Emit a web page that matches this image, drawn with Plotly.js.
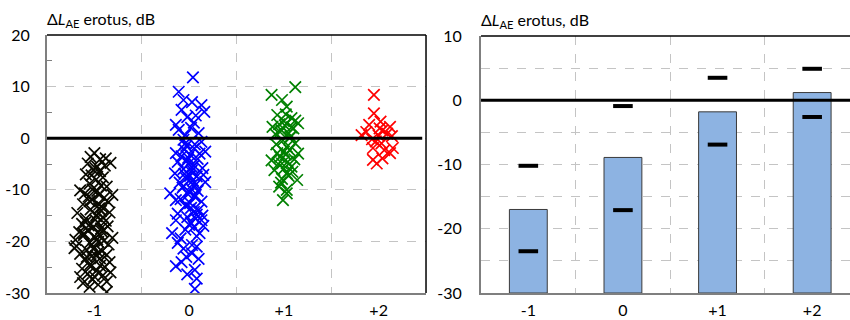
<!DOCTYPE html>
<html>
<head>
<meta charset="utf-8">
<script src="https://cdn.plot.ly/plotly-3.0.1.min.js"></script>
<style>html,body{margin:0;padding:0;background:#fff;overflow:hidden;}#chart{width:850px;height:320px;}</style>
</head>
<body>
<div id="chart"></div>
<script>
// Categories and tick labels
const categories = ['-1', '0', '+1', '+2'];
const yTicksLeft = [-30, -20, -10, 0, 10, 20];
const yTicksRight = [-30, -20, -10, 0, 10];

// Left panel: individual differences (x offset within category, value in dB)
const blackDx = [0.00,0.06,0.17,-0.07,-0.01,0.06,0.11,-0.04,0.03,-0.09,0.09,0.02,-0.03,0.12,
  -0.05,0.07,0.13,-0.15,0.19,-0.10,0.03,0.10,-0.02,0.15,-0.12,0.05,-0.06,0.08,
  -0.18,0.16,-0.04,0.02,0.09,-0.09,0.12,-0.13,0.04,-0.01,0.07,-0.07,0.14,-0.16,0.01,
  -0.20,0.19,-0.11,0.05,0.10,-0.05,-0.19,0.15,0.00,-0.08,0.08,-0.15,0.13,-0.03,0.04,-0.21,
  0.06,-0.10,0.16,-0.04,0.11,-0.13,0.02,0.17,-0.07,-0.15,0.09,-0.02,0.13,-0.12,-0.05,0.13,0.04,
  0.01,-0.02,0.05,-0.06,0.08,0.00,-0.03,0.04,-0.08,0.06,0.02,-0.05,0.10,-0.01,0.03,-0.09,0.07,-0.04,0.00,0.05,-0.11,0.02];
const blackY = [-2.9,-4.1,-4.8,-4.9,-6.2,-6.4,-5.3,-3.6,-5.5,-7.0,-7.6,-8.0,-7.2,-3.9,
  -8.8,-9.2,-9.4,-10.1,-11.0,-10.7,-10.2,-11.6,-11.9,-12.4,-12.8,-12.9,-11.3,-13.3,
  -14.5,-14.4,-13.8,-14.9,-15.3,-15.6,-16.0,-16.6,-16.4,-17.2,-17.5,-17.9,-17.1,-18.2,-15.8,
  -19.7,-19.3,-18.8,-18.6,-19.9,-20.3,-20.9,-20.6,-21.2,-21.7,-21.9,-22.4,-22.6,-22.9,-20.1,-21.3,
  -23.3,-23.6,-24.0,-24.4,-25.0,-25.3,-25.7,-26.0,-26.3,-26.9,-26.6,-27.4,-27.8,-28.1,-28.8,-29.8,-28.4,
  -5.8,-9.9,-13.6,-16.9,-18.1,-19.0,-20.6,-22.1,-23.0,-24.7,-15.1,-12.2,-17.8,-21.5,-19.6,-16.2,-14.1,-24.9,-26.8,-11.0,-18.5,-22.8];

const blueDx = [0.04,-0.11,-0.06,0.03,0.13,0.16,-0.08,-0.02,0.07,-0.14,-0.11,0.02,0.10,-0.04,0.05,
  0.13,0.17,-0.14,-0.03,0.06,-0.08,0.01,0.09,-0.12,-0.01,0.05,0.14,-0.06,0.02,-0.15,0.15,0.08,-0.03,0.17,0.04,-0.10,0.11,-0.05,
  -0.20,-0.14,-0.06,0.02,0.09,-0.01,0.06,-0.09,0.13,0.01,-0.04,0.10,0.05,-0.12,0.14,-0.02,0.07,0.13,-0.14,0.02,
  -0.18,-0.09,0.11,0.05,-0.04,0.15,0.08,-0.12,0.03,-0.06,0.08,0.03,-0.03,0.10,-0.14,-0.08,0.06,0.08,0.06,-0.02,
  -0.02,0.03,-0.05,0.01,0.04,-0.07,0.00,0.06,-0.03,0.02,-0.01,0.05,-0.04,0.08,0.00,0.03,-0.06,0.07];
const blueY = [11.8,9.0,7.4,7.0,6.4,5.1,5.5,4.1,4.4,2.6,1.6,2.0,1.0,0.6,3.0,
  -0.7,-2.6,-2.9,-1.5,-1.2,-3.5,-3.2,-4.0,-4.6,-5.0,-5.3,-5.8,-6.0,-6.5,-6.8,-7.1,-7.4,-7.8,-8.5,-8.2,-8.6,-3.0,-2.2,
  -10.7,-12.0,-9.3,-9.8,-10.2,-10.9,-11.4,-11.8,-12.3,-12.6,-13.1,-13.9,-14.3,-14.6,-15.0,-15.3,-15.6,-15.9,-15.9,-16.4,
  -18.4,-19.4,-18.4,-17.2,-17.7,-17.0,-19.0,-20.3,-20.7,-21.4,-21.0,-22.3,-23.0,-23.4,-24.8,-24.0,-25.5,-27.2,-29.2,-26.4,
  -4.3,-5.6,-6.9,-7.3,-8.9,-9.6,-10.4,-11.1,-12.9,-13.5,-3.8,-2.0,-1.0,-14.8,-16.8,-6.2,-0.3,-9.0];

const greenDx = [0.12,-0.13,-0.02,0.03,-0.07,0.08,0.15,-0.12,-0.03,0.05,0.00,0.10,-0.09,0.02,0.12,-0.05,0.07,-0.01,
  0.03,-0.07,0.15,-0.13,-0.02,0.08,-0.10,0.03,0.14,-0.05,0.03,-0.01,0.06,-0.04,0.11,0.00,-0.08,0.05,0.09,-0.03,0.12,
  0.01,-0.04,0.06,0.02,-0.06,0.04,0.00,0.08,-0.02,0.03];
const greenY = [9.9,8.4,7.4,6.1,4.5,3.9,2.9,2.2,1.6,1.0,3.3,1.9,0.8,4.6,3.4,2.7,0.3,-0.4,
  -1.7,-2.9,-3.0,-4.3,-4.9,-5.5,-6.2,-6.8,-8.1,-9.4,-10.7,-12.0,-2.3,-3.6,-4.1,-5.9,-1.2,-7.3,-6.5,-8.6,-1.0,
  2.5,1.2,0.0,-3.2,-5.0,-4.6,-2.6,2.1,-7.9,-10.0];

const redDx = [-0.05,-0.05,0.02,-0.10,0.12,-0.13,0.04,-0.18,0.00,0.14,-0.07,0.03,0.15,-0.06,0.06,0.12,-0.06,0.04,0.09,-0.02,0.01,-0.03];
const redY = [8.4,4.8,3.2,2.6,2.2,1.2,1.5,0.6,0.5,0.4,-0.2,-1.0,-1.9,-1.9,-2.3,-2.9,-4.2,-3.9,0.9,-4.9,1.9,-0.6];

// Right panel: mean bars and upper/lower marks
const barBase = -30;
const barVals = [-17.0, -8.9, -1.8, 1.2];
const upperVals = [-10.2, -0.9, 3.5, 4.9];
const lowerVals = [-23.5, -17.1, -6.9, -2.6];

const FONT = 'Lato, "Open Sans", sans-serif';
const GRID = '#c4c4c4';
const AXIS = '#7f7f7f';

function cloud(ci, dx, ys, color) {
  return {
    type: 'scatter', mode: 'markers', xaxis: 'x', yaxis: 'y',
    x: dx.map(d => ci + d), y: ys,
    marker: {symbol: 'x-thin-open', size: 11.5, color: color, line: {color: color, width: 1.7}},
    hoverinfo: 'skip'
  };
}

const idx = categories.map((c, i) => i);
const traces = [
  cloud(0, blackDx, blackY, '#0a0a00'),
  cloud(1, blueDx, blueY, '#0000ff'),
  cloud(2, greenDx, greenY, '#008000'),
  cloud(3, redDx, redY, '#ff0000'),
  {
    type: 'bar', xaxis: 'x2', yaxis: 'y2',
    x: idx, y: barVals.map(v => v - barBase), base: barBase, width: 0.4,
    marker: {color: '#8db3e2', line: {color: '#3a3a3a', width: 1}},
    hoverinfo: 'skip'
  },
  {
    type: 'scatter', mode: 'markers', xaxis: 'x2', yaxis: 'y2',
    x: idx, y: upperVals,
    marker: {symbol: 'line-ew', size: 14, color: '#000', line: {color: '#000', width: 4}},
    hoverinfo: 'skip'
  },
  {
    type: 'scatter', mode: 'markers', xaxis: 'x2', yaxis: 'y2',
    x: idx, y: lowerVals,
    marker: {symbol: 'line-ew', size: 14, color: '#000', line: {color: '#000', width: 4}},
    hoverinfo: 'skip'
  }
];

function xAxis(domain, range, anchor) {
  return {
    domain: domain, range: range, anchor: anchor, type: 'linear',
    tickmode: 'array', tickvals: idx, ticktext: categories,
    showgrid: false, zeroline: false, showline: true, linecolor: AXIS, linewidth: 2,
    ticks: '', ticklabelstandoff: 2,
    tickfont: {family: FONT, size: 16, color: '#000'},
    minor: {tickmode: 'array', tickvals: [0.5, 1.5, 2.5], showgrid: true, gridcolor: GRID, gridwidth: 1, griddash: 'dash', ticks: ''},
    fixedrange: true
  };
}

const layout = {
  width: 850, height: 320,
  margin: {l: 47, r: 0, t: 35, b: 27, pad: 0},
  paper_bgcolor: '#fff', plot_bgcolor: '#fff',
  showlegend: false,
  font: {family: FONT, size: 16, color: '#000'},
  xaxis: xAxis([0, 0.472], [-0.5, 3.5], 'y'),
  xaxis2: xAxis([0.5405, 1], [-0.5, 3.4], 'y2'),
  yaxis: {
    domain: [0, 1], range: [-30, 20], anchor: 'x',
    tickmode: 'array', tickvals: yTicksLeft, ticktext: yTicksLeft.map(String),
    showgrid: true, gridcolor: GRID, gridwidth: 1, griddash: 'dash',
    zeroline: false, showline: true, linecolor: AXIS, linewidth: 2,
    ticks: '', ticklabelstandoff: 12,
    tickfont: {family: FONT, size: 16, color: '#000'},
    minor: {tickmode: 'array', tickvals: [15, 5, -5, -15, -25], ticks: 'inside', ticklen: 5, tickwidth: 1, tickcolor: AXIS, showgrid: false},
    fixedrange: true
  },
  yaxis2: {
    domain: [0, 0.996], range: [-30, 10], anchor: 'x2',
    tickmode: 'array', tickvals: yTicksRight, ticktext: yTicksRight.map(String),
    showgrid: true, gridcolor: GRID, gridwidth: 1, griddash: 'dash',
    zeroline: false, showline: true, linecolor: AXIS, linewidth: 2,
    ticks: '', ticklabelstandoff: 14,
    tickfont: {family: FONT, size: 16, color: '#000'},
    minor: {tickmode: 'array', tickvals: [5, -5, -15, -25], showgrid: true, gridcolor: GRID, gridwidth: 1, griddash: 'dash', ticks: ''},
    fixedrange: true
  },
  shapes: [
    {type: 'line', xref: 'x domain', yref: 'y domain', x0: 0, x1: 1, y0: 1, y1: 1, line: {color: '#000', width: 1.5}, layer: 'above'},
    {type: 'line', xref: 'x domain', yref: 'y domain', x0: 1, x1: 1, y0: 0, y1: 1, line: {color: '#000', width: 1.5}, layer: 'above'},
    {type: 'line', xref: 'x2 domain', yref: 'y2 domain', x0: 0, x1: 1, y0: 1, y1: 1, line: {color: '#000', width: 1.5}, layer: 'above'},
    {type: 'line', xref: 'x domain', yref: 'y', x0: 0, x1: 0.99, y0: 0, y1: 0, line: {color: '#000', width: 3}, layer: 'above'},
    {type: 'line', xref: 'x2 domain', yref: 'y2', x0: 0, x1: 1, y0: 0, y1: 0, line: {color: '#000', width: 3}, layer: 'above'}
  ],
  annotations: [
    {xref: 'x domain', yref: 'y domain', x: 0, y: 1, xanchor: 'left', yanchor: 'bottom', showarrow: false, yshift: 3, xshift: -2,
     text: 'Δ<i>L</i><sub>AE</sub> erotus, dB', font: {family: FONT, size: 16, color: '#000'}},
    {xref: 'x2 domain', yref: 'y2 domain', x: 0, y: 1, xanchor: 'left', yanchor: 'bottom', showarrow: false, yshift: 3, xshift: -2,
     text: 'Δ<i>L</i><sub>AE</sub> erotus, dB', font: {family: FONT, size: 16, color: '#000'}}
  ]
};

Plotly.newPlot('chart', traces, layout, {staticPlot: true, displayModeBar: false});
</script>
</body>
</html>
